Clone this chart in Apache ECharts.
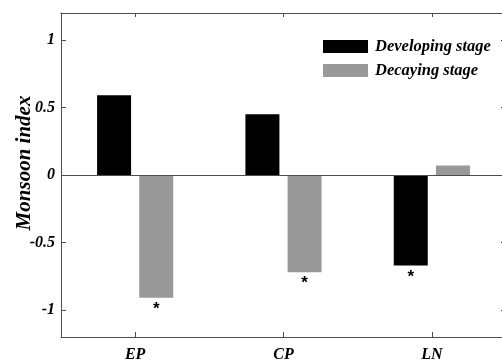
<!DOCTYPE html>
<html>
<head>
<meta charset="utf-8">
<script src="https://cdn.jsdelivr.net/npm/echarts@6/dist/echarts.min.js"></script>
<style>html,body{margin:0;padding:0;background:#fff}#c{width:502px;height:360px}</style>
</head>
<body>
<div id="c"></div>
<script>
var categories = ['EP', 'CP', 'LN'];
var developing = [0.59, 0.45, -0.67];
var decaying = [-0.91, -0.72, 0.07];
var developingSig = [false, false, true];
var decayingSig = [true, true, false];
var yTicks = [-1, -0.5, 0, 0.5, 1];

var serif = '"Liberation Serif", "Times New Roman", serif';
var axisColor = '#4d4d4d';

function sigLabel(sig) {
  return {
    show: true, position: 'bottom', distance: 3,
    formatter: function (p) { return sig[p.dataIndex] ? '*' : ''; },
    color: '#000', fontFamily: '"Liberation Sans", Arial, sans-serif', fontSize: 17, fontWeight: 'bold'
  };
}

var chart = echarts.init(document.getElementById('c'), null, {renderer: 'canvas'});
chart.setOption({
  animation: false,
  backgroundColor: '#fff',
  grid: {left: 61, top: 13, width: 445, height: 324, outerBoundsMode: 'none', containLabel: false},
  legend: {
    left: 323, top: 38, orient: 'vertical', itemWidth: 45, itemHeight: 13, itemGap: 7,
    padding: 0, icon: 'rect',
    textStyle: {fontFamily: serif, fontStyle: 'italic', fontWeight: 'bold', fontSize: 16.5, color: '#000', padding: [0, 0, 0, 2]},
    data: ['Developing stage', 'Decaying stage']
  },
  graphic: [{
    type: 'text', rotation: Math.PI / 2,
    x: 25, y: 163,
    style: {text: 'Monsoon index', font: 'italic bold 21px ' + serif, fill: '#000', textAlign: 'center', textVerticalAlign: 'middle'}
  }],
  xAxis: [{
    type: 'category', data: categories, position: 'bottom',
    axisLine: {show: true, onZero: false, lineStyle: {color: axisColor, width: 1}},
    axisTick: {show: true, inside: true, length: 5, alignWithLabel: true, lineStyle: {color: axisColor}},
    axisLabel: {margin: 10, fontFamily: serif, fontStyle: 'italic', fontWeight: 'bold', fontSize: 16, color: '#000'},
    splitLine: {show: false}
  }, {
    type: 'category', data: categories, position: 'top',
    axisLine: {show: true, onZero: false, lineStyle: {color: axisColor, width: 1}},
    axisTick: {show: true, inside: true, length: 4, alignWithLabel: true, lineStyle: {color: axisColor}},
    axisLabel: {show: false},
    splitLine: {show: false}
  }],
  yAxis: [{
    type: 'value', min: -1.2, max: 1.2, position: 'left',
    axisLine: {show: true, lineStyle: {color: axisColor, width: 1}},
    axisTick: {show: true, inside: true, length: 5, customValues: yTicks, lineStyle: {color: axisColor}},
    axisLabel: {show: true, customValues: yTicks, margin: 6, fontFamily: serif, fontStyle: 'italic', fontWeight: 'bold', fontSize: 16, color: '#000',
      formatter: function (v) { return String(v); }},
    splitLine: {show: false}
  }, {
    type: 'value', min: -1.2, max: 1.2, position: 'right',
    axisLine: {show: true, lineStyle: {color: axisColor, width: 1}},
    axisTick: {show: true, inside: true, length: 5, customValues: yTicks, lineStyle: {color: axisColor}},
    axisLabel: {show: false},
    splitLine: {show: false}
  }],
  series: [{
    name: 'Developing stage', type: 'bar', data: developing,
    barWidth: 34, barGap: '24%',
    itemStyle: {color: '#000'},
    label: sigLabel(developingSig),
    markLine: {
      silent: true, symbol: 'none', label: {show: false},
      lineStyle: {color: axisColor, width: 1, type: 'solid'},
      data: [{yAxis: 0}]
    }
  }, {
    name: 'Decaying stage', type: 'bar', data: decaying,
    barWidth: 34, barGap: '24%',
    itemStyle: {color: '#999999'},
    label: sigLabel(decayingSig)
  }]
});
</script>
</body>
</html>
